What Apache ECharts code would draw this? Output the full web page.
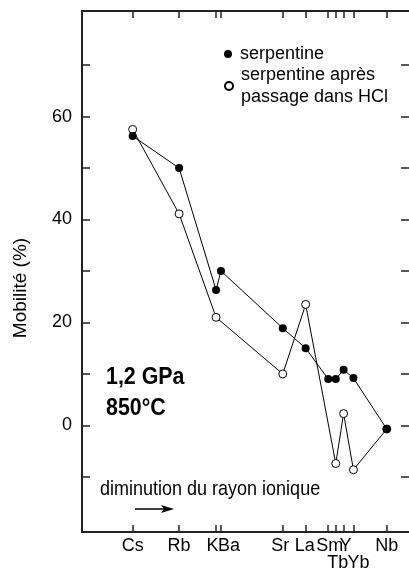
<!DOCTYPE html>
<html>
<head>
<meta charset="utf-8">
<script src="https://cdn.jsdelivr.net/npm/echarts@6/dist/echarts.min.js"></script>
<style>
  html, body { margin: 0; padding: 0; background: #fff; }
  #chart { width: 409px; height: 572px; }
</style>
</head>
<body>
<div id="chart"></div>
<script>
// elements, ordered by decreasing ionic radius
const elements = ['Cs', 'Rb', 'K', 'Ba', 'Sr', 'La', 'Sm', 'Tb', 'Y', 'Yb', 'Nb']
// relative position of each element on the x axis (0-100)
const xPos = [15.5, 29.7, 41.0, 42.5, 61.4, 68.4, 75.3, 77.6, 80.0, 83.0, 93.2]
// mobility (%)
const serpentine = [56.2, 50.0, 26.3, 30.0, 18.9, 15.0, 9.0, 9.0, 10.8, 9.2, -0.7]
const serpentineHCl = [57.5, 41.1, 21.0, null, 10.0, 23.5, null, -7.4, 2.3, -8.6, -0.7]
const yTicks = [-10, 0, 10, 20, 30, 40, 50, 60, 70]
const yLabels = [0, 20, 40, 60]

const FONT = 'Liberation Sans'
let chart = echarts.init(document.getElementById('chart'))

function pairs(vals) {
    return vals.map((v, i) => [xPos[i], v])
}

// some element labels are nudged so they don't collide
const labelStyle = { K: 'k', Ba: 'ba', Sr: 'sr', La: 'la', Sm: 'sm', Tb: 'tb', Y: 'y', Yb: 'yb' }

function elementLabel(value) {
    let best = 0
    xPos.forEach((p, i) => {
        if (Math.abs(p - value) < Math.abs(xPos[best] - value)) best = i
    })
    const name = elements[best]
    return labelStyle[name] ? '{' + labelStyle[name] + '|' + name + '}' : name
}

function rich(padding) {
    return { fontFamily: FONT, fontSize: 18, color: '#000', padding: padding }
}

const axisLine = { show: true, onZero: false, lineStyle: { color: '#222', width: 2 } }
const tickStyle = { color: '#222', width: 1.5 }

let option = {
    animation: false,
    grid: { left: 82, right: 0, top: 11, bottom: 38 },
    legend: [
        {
            data: ['serpentine'],
            left: 224, top: 45, padding: 0,
            icon: 'circle', itemWidth: 8, itemHeight: 8,
            textStyle: { fontFamily: FONT, fontSize: 18, color: '#000', padding: [0, 0, 0, 3] }
        },
        {
            data: ['serpentine après\npassage dans HCl'],
            left: 224, top: 53, padding: 0,
            icon: 'circle', itemWidth: 8, itemHeight: 8,
            textStyle: { fontFamily: FONT, fontSize: 18, color: '#000', lineHeight: 22, padding: [22, 0, 0, 3] }
        }
    ],
    xAxis: [
        {
            type: 'value', min: 0, max: 100, position: 'bottom',
            axisLine: axisLine,
            splitLine: { show: false },
            axisTick: { show: true, inside: true, length: 7, customValues: xPos, lineStyle: tickStyle },
            axisLabel: {
                customValues: xPos, formatter: elementLabel, margin: 5,
                fontFamily: FONT, fontSize: 18, color: '#000',
                rich: {
                    k: rich([0, 7, 0, 0]),
                    ba: rich([0, 0, 0, 16]),
                    sr: rich([0, 5, 0, 0]),
                    la: rich([0, 2, 0, 0]),
                    sm: rich([0, 0, 0, 3]),
                    y: rich([0, 0, 0, 4]),
                    tb: rich([17, 0, 0, 4]),
                    yb: rich([17, 0, 0, 10])
                }
            }
        },
        {
            type: 'value', min: 0, max: 100, position: 'top',
            axisLine: axisLine,
            splitLine: { show: false },
            axisTick: { show: true, inside: true, length: 7, customValues: xPos, lineStyle: tickStyle },
            axisLabel: { show: false }
        }
    ],
    yAxis: [
        {
            type: 'value', min: -20.7, max: 80.5, position: 'left',
            axisLine: axisLine,
            splitLine: { show: false },
            axisTick: { show: true, inside: true, length: 8, customValues: yTicks, lineStyle: tickStyle },
            axisLabel: { customValues: yLabels, margin: 10, fontFamily: FONT, fontSize: 18, color: '#000' }
        },
        {
            type: 'value', min: -20.7, max: 80.5, position: 'right',
            axisLine: { show: false, onZero: false },
            splitLine: { show: false },
            axisTick: { show: true, inside: true, length: 8, customValues: yTicks, lineStyle: tickStyle },
            axisLabel: { show: false }
        }
    ],
    graphic: [
        {
            type: 'text', x: 21, y: 288, rotation: Math.PI / 2,
            style: { text: 'Mobilité (%)', font: '19px ' + FONT, fill: '#000', align: 'center', verticalAlign: 'middle' }
        },
        {
            type: 'text', x: 106, y: 378, scaleX: 0.93,
            style: { text: '1,2 GPa', font: 'bold 23px ' + FONT, fill: '#000', verticalAlign: 'middle' }
        },
        {
            type: 'text', x: 106, y: 409, scaleX: 0.93,
            style: { text: '850°C', font: 'bold 23px ' + FONT, fill: '#000', verticalAlign: 'middle' }
        },
        {
            type: 'text', x: 100, y: 490, scaleY: 1.08,
            style: { text: 'diminution du rayon ionique', font: '18px ' + FONT, fill: '#000', verticalAlign: 'middle' }
        },
        {
            type: 'line', shape: { x1: 135, y1: 509, x2: 168, y2: 509 },
            style: { stroke: '#000', lineWidth: 1.5 }
        },
        {
            type: 'polygon', shape: { points: [[161, 505], [174, 509], [161, 513], [164, 509]] },
            style: { fill: '#000' }
        }
    ],
    series: [
        {
            name: 'serpentine après\npassage dans HCl',
            type: 'line',
            data: pairs(serpentineHCl),
            connectNulls: true,
            symbol: 'circle', symbolSize: 8,
            lineStyle: { color: '#000', width: 1 },
            itemStyle: { color: '#fff', borderColor: '#000', borderWidth: 1 },
            z: 2
        },
        {
            name: 'serpentine',
            type: 'line',
            data: pairs(serpentine),
            connectNulls: true,
            symbol: 'circle', symbolSize: 8,
            lineStyle: { color: '#000', width: 1 },
            itemStyle: { color: '#000' },
            z: 3
        }
    ]
}
chart.setOption(option)
</script>
</body>
</html>
